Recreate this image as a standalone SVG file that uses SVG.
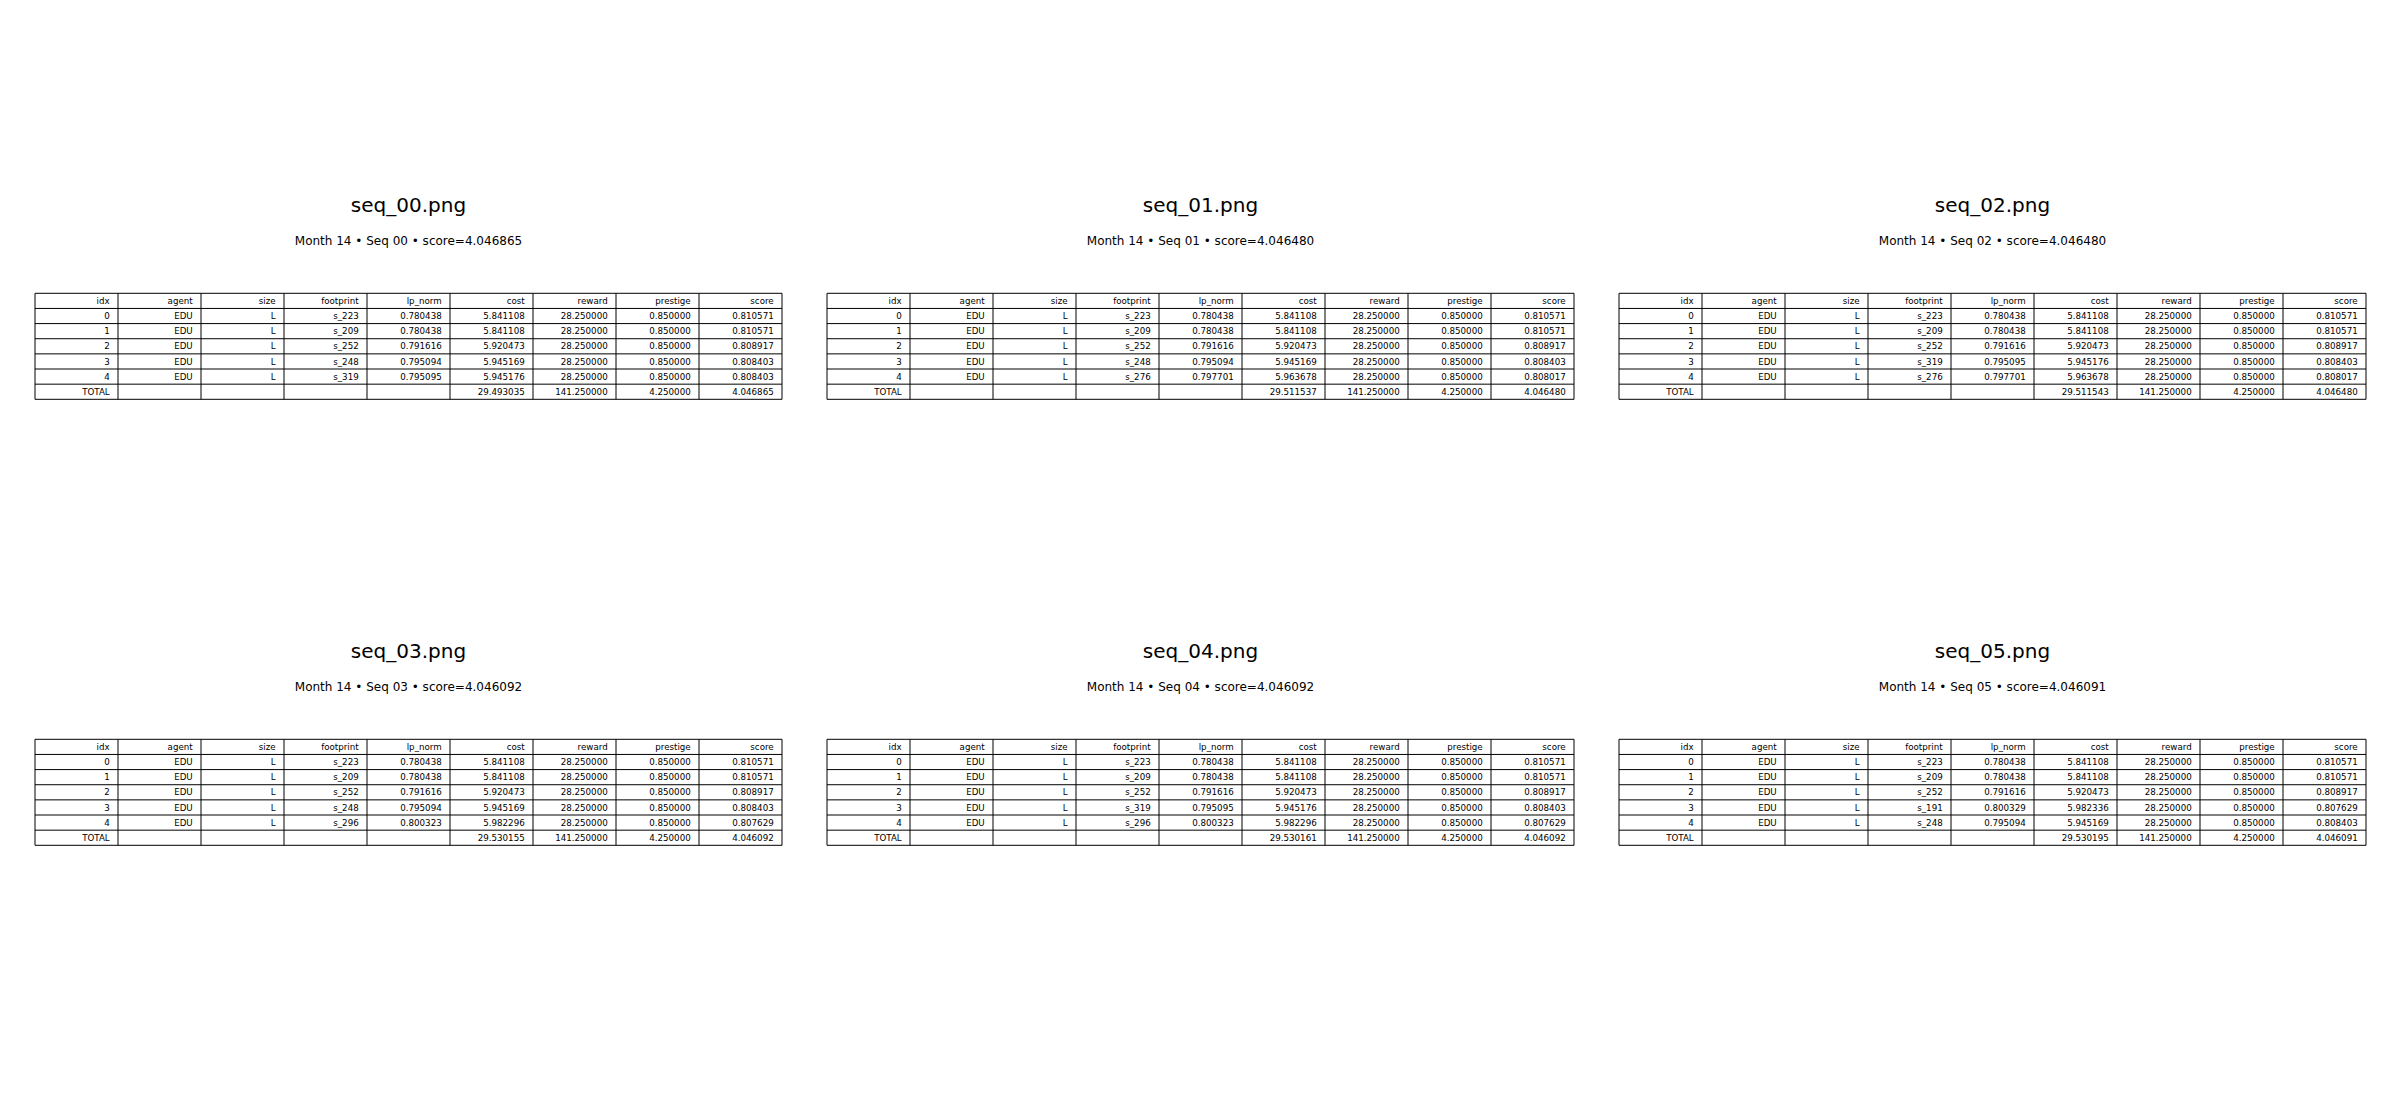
<svg xmlns="http://www.w3.org/2000/svg" xmlns:xlink="http://www.w3.org/1999/xlink" width="2400" height="1120" viewBox="0 0 2400 1120">
<style>
.t{font-family:"DejaVu Sans","Liberation Sans",sans-serif;font-size:20px;fill:#000;text-anchor:middle}
.s{font-family:"DejaVu Sans","Liberation Sans",sans-serif;font-size:12px;fill:#000;text-anchor:middle}
.tb{font-family:"DejaVu Sans","Liberation Sans",sans-serif;font-size:8.7px;fill:#000;text-anchor:end}
.g{fill:none;stroke:#000;stroke-width:1}
</style>
<defs>
<path id="grid" fill="none" stroke="#000" stroke-width="1" d="M0,0H747M0,15.14H747M0,30.29H747M0,45.43H747M0,60.57H747M0,75.71H747M0,90.86H747M0,106H747M0,0V106M83,0V106M166,0V106M249,0V106M332,0V106M415,0V106M498,0V106M581,0V106M664,0V106M747,0V106"/>
<g id="hdr">
<text x="74.7" y="10.7">idx</text><text x="157.7" y="10.7">agent</text><text x="240.7" y="10.7">size</text><text x="323.7" y="10.7">footprint</text><text x="406.7" y="10.7">lp_norm</text><text x="489.7" y="10.7">cost</text><text x="572.7" y="10.7">reward</text><text x="655.7" y="10.7">prestige</text><text x="738.7" y="10.7">score</text>
<text x="74.7" y="25.8">0</text><text x="157.7" y="25.8">EDU</text><text x="240.7" y="25.8">L</text><text x="323.7" y="25.8">s_223</text><text x="406.7" y="25.8">0.780438</text><text x="489.7" y="25.8">5.841108</text><text x="572.7" y="25.8">28.250000</text><text x="655.7" y="25.8">0.850000</text><text x="738.7" y="25.8">0.810571</text>
<text x="74.7" y="41">1</text><text x="157.7" y="41">EDU</text><text x="240.7" y="41">L</text><text x="323.7" y="41">s_209</text><text x="406.7" y="41">0.780438</text><text x="489.7" y="41">5.841108</text><text x="572.7" y="41">28.250000</text><text x="655.7" y="41">0.850000</text><text x="738.7" y="41">0.810571</text>
<text x="74.7" y="56.1">2</text><text x="157.7" y="56.1">EDU</text><text x="240.7" y="56.1">L</text><text x="323.7" y="56.1">s_252</text><text x="406.7" y="56.1">0.791616</text><text x="489.7" y="56.1">5.920473</text><text x="572.7" y="56.1">28.250000</text><text x="655.7" y="56.1">0.850000</text><text x="738.7" y="56.1">0.808917</text>
<text x="74.7" y="71.3">3</text><text x="157.7" y="71.3">EDU</text><text x="240.7" y="71.3">L</text><text x="572.7" y="71.3">28.250000</text><text x="655.7" y="71.3">0.850000</text>
<text x="74.7" y="86.4">4</text><text x="157.7" y="86.4">EDU</text><text x="240.7" y="86.4">L</text><text x="572.7" y="86.4">28.250000</text><text x="655.7" y="86.4">0.850000</text>
<text x="74.7" y="101.5">TOTAL</text><text x="572.7" y="101.5">141.250000</text><text x="655.7" y="101.5">4.250000</text>
</g>
</defs>

<g id="panel-seq00">
<text class="t" x="408.5" y="211.7">seq_00.png</text>
<text class="s" x="408.5" y="245">Month 14 • Seq 00 • score=4.046865</text>
<g class="tb" transform="translate(35,293.3)">
<use xlink:href="#grid"/><use xlink:href="#hdr"/>
<text x="323.7" y="71.3">s_248</text><text x="406.7" y="71.3">0.795094</text><text x="489.7" y="71.3">5.945169</text><text x="738.7" y="71.3">0.808403</text>
<text x="323.7" y="86.4">s_319</text><text x="406.7" y="86.4">0.795095</text><text x="489.7" y="86.4">5.945176</text><text x="738.7" y="86.4">0.808403</text>
<text x="489.7" y="101.5">29.493035</text><text x="738.7" y="101.5">4.046865</text>
</g>
</g>

<g id="panel-seq01">
<text class="t" x="1200.5" y="211.7">seq_01.png</text>
<text class="s" x="1200.5" y="245">Month 14 • Seq 01 • score=4.046480</text>
<g class="tb" transform="translate(827,293.3)">
<use xlink:href="#grid"/><use xlink:href="#hdr"/>
<text x="323.7" y="71.3">s_248</text><text x="406.7" y="71.3">0.795094</text><text x="489.7" y="71.3">5.945169</text><text x="738.7" y="71.3">0.808403</text>
<text x="323.7" y="86.4">s_276</text><text x="406.7" y="86.4">0.797701</text><text x="489.7" y="86.4">5.963678</text><text x="738.7" y="86.4">0.808017</text>
<text x="489.7" y="101.5">29.511537</text><text x="738.7" y="101.5">4.046480</text>
</g>
</g>

<g id="panel-seq02">
<text class="t" x="1992.5" y="211.7">seq_02.png</text>
<text class="s" x="1992.5" y="245">Month 14 • Seq 02 • score=4.046480</text>
<g class="tb" transform="translate(1619,293.3)">
<use xlink:href="#grid"/><use xlink:href="#hdr"/>
<text x="323.7" y="71.3">s_319</text><text x="406.7" y="71.3">0.795095</text><text x="489.7" y="71.3">5.945176</text><text x="738.7" y="71.3">0.808403</text>
<text x="323.7" y="86.4">s_276</text><text x="406.7" y="86.4">0.797701</text><text x="489.7" y="86.4">5.963678</text><text x="738.7" y="86.4">0.808017</text>
<text x="489.7" y="101.5">29.511543</text><text x="738.7" y="101.5">4.046480</text>
</g>
</g>

<g id="panel-seq03">
<text class="t" x="408.5" y="657.7">seq_03.png</text>
<text class="s" x="408.5" y="691">Month 14 • Seq 03 • score=4.046092</text>
<g class="tb" transform="translate(35,739.3)">
<use xlink:href="#grid"/><use xlink:href="#hdr"/>
<text x="323.7" y="71.3">s_248</text><text x="406.7" y="71.3">0.795094</text><text x="489.7" y="71.3">5.945169</text><text x="738.7" y="71.3">0.808403</text>
<text x="323.7" y="86.4">s_296</text><text x="406.7" y="86.4">0.800323</text><text x="489.7" y="86.4">5.982296</text><text x="738.7" y="86.4">0.807629</text>
<text x="489.7" y="101.5">29.530155</text><text x="738.7" y="101.5">4.046092</text>
</g>
</g>

<g id="panel-seq04">
<text class="t" x="1200.5" y="657.7">seq_04.png</text>
<text class="s" x="1200.5" y="691">Month 14 • Seq 04 • score=4.046092</text>
<g class="tb" transform="translate(827,739.3)">
<use xlink:href="#grid"/><use xlink:href="#hdr"/>
<text x="323.7" y="71.3">s_319</text><text x="406.7" y="71.3">0.795095</text><text x="489.7" y="71.3">5.945176</text><text x="738.7" y="71.3">0.808403</text>
<text x="323.7" y="86.4">s_296</text><text x="406.7" y="86.4">0.800323</text><text x="489.7" y="86.4">5.982296</text><text x="738.7" y="86.4">0.807629</text>
<text x="489.7" y="101.5">29.530161</text><text x="738.7" y="101.5">4.046092</text>
</g>
</g>

<g id="panel-seq05">
<text class="t" x="1992.5" y="657.7">seq_05.png</text>
<text class="s" x="1992.5" y="691">Month 14 • Seq 05 • score=4.046091</text>
<g class="tb" transform="translate(1619,739.3)">
<use xlink:href="#grid"/><use xlink:href="#hdr"/>
<text x="323.7" y="71.3">s_191</text><text x="406.7" y="71.3">0.800329</text><text x="489.7" y="71.3">5.982336</text><text x="738.7" y="71.3">0.807629</text>
<text x="323.7" y="86.4">s_248</text><text x="406.7" y="86.4">0.795094</text><text x="489.7" y="86.4">5.945169</text><text x="738.7" y="86.4">0.808403</text>
<text x="489.7" y="101.5">29.530195</text><text x="738.7" y="101.5">4.046091</text>
</g>
</g>
</svg>
